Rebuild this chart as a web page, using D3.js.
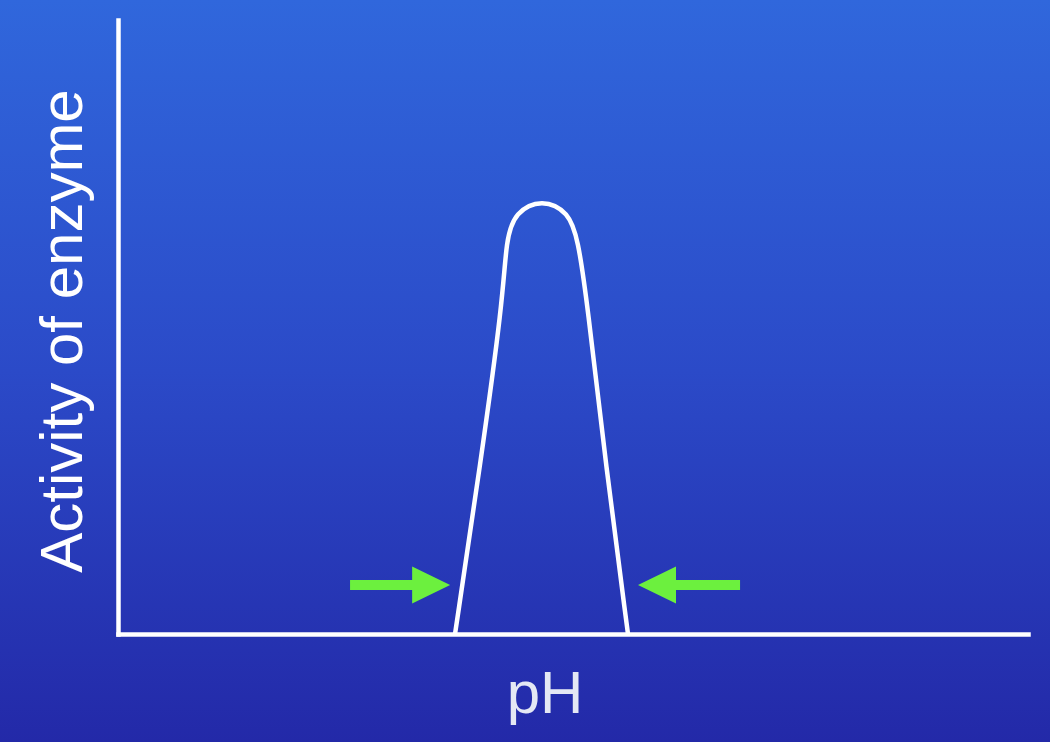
<!DOCTYPE html>
<html>
<head>
<meta charset="utf-8">
<script src="https://d3js.org/d3.v7.min.js"></script>
<style>
  html, body { margin: 0; padding: 0; background: #2a45c6; }
  svg { display: block; }
</style>
</head>
<body>
<svg id="chart"></svg>
<script>
var W = 1050, H = 742;
var margins = { top: 20, left: 118, bottom: 108, right: 22 };

// curve: pH vs activity of enzyme (smoothed with a B-spline)
var phValues = [5.185, 5.569, 5.923, 5.969, 6.108, 6.523, 6.938, 7.077, 7.215, 7.508, 7.846];
var activity = [0, 27.2, 54.4, 64.2, 68.7, 70.9, 68.7, 64.2, 54.4, 27.2, 0];

// green arrows pointing at the edges of the curve
var arrowFrom = [3.57, 9.57];
var arrowTo = [5.11, 8.0];
var arrowLevel = 8.0;

var xLabel = "pH";
var yLabel = "Activity of enzyme";

var svg = d3.select("#chart").attr("width", W).attr("height", H);

// background gradient
var grad = svg.append("defs").append("linearGradient")
  .attr("id", "bg").attr("x1", 0).attr("y1", 0).attr("x2", 0).attr("y2", 1);
grad.append("stop").attr("offset", "0%").attr("stop-color", "#3067dc");
grad.append("stop").attr("offset", "50%").attr("stop-color", "#2b4ac8");
grad.append("stop").attr("offset", "100%").attr("stop-color", "#2329a8");
svg.append("rect").attr("width", W).attr("height", H).attr("fill", "url(#bg)");

var xScale = d3.scaleLinear().domain([0, 14]).range([margins.left, W - margins.right]);
var yScale = d3.scaleLinear().domain([0, 100]).range([H - margins.bottom, margins.top]);

//axes, no ticks
var xAxis = d3.axisBottom(xScale).ticks(0).tickSizeOuter(0);
var yAxis = d3.axisLeft(yScale).ticks(0).tickSizeOuter(0);

svg.append("g").attr("id", "xAxisG")
  .attr("transform", "translate(0," + yScale(0) + ")")
  .call(xAxis);
svg.append("g").attr("id", "yAxisG")
  .attr("transform", "translate(" + xScale(0) + ",0)")
  .call(yAxis);
svg.selectAll("#xAxisG path, #yAxisG path")
  .attr("stroke", "#ffffff").attr("stroke-width", 4.5).attr("stroke-linecap", "square");

// the curve
var pts = phValues.map(function(p, i) { return { ph: p, a: activity[i] }; });
var line = d3.line()
  .x(function(d) { return xScale(d.ph); })
  .y(function(d) { return yScale(d.a); })
  .curve(d3.curveBasis);

svg.append("path")
  .attr("d", line(pts))
  .attr("fill", "none")
  .attr("stroke", "#ffffff")
  .attr("stroke-width", 4.5)
  .attr("stroke-linejoin", "round");

// arrows
var headLen = 38, headHalf = 18.5, shaftHalf = 5;
arrowFrom.forEach(function(f, i) {
  var x0 = xScale(f), x1 = xScale(arrowTo[i]), y = yScale(arrowLevel);
  var dir = x1 > x0 ? 1 : -1;
  var xb = x1 - dir * headLen;
  var pathStr = "M" + x0 + "," + (y - shaftHalf) +
    "L" + xb + "," + (y - shaftHalf) +
    "L" + xb + "," + (y - headHalf) +
    "L" + x1 + "," + y +
    "L" + xb + "," + (y + headHalf) +
    "L" + xb + "," + (y + shaftHalf) +
    "L" + x0 + "," + (y + shaftHalf) + "Z";
  svg.append("path").attr("d", pathStr).attr("fill", "#6cf03e");
});

// labels
svg.append("text")
  .attr("x", 545).attr("y", 713)
  .attr("text-anchor", "middle")
  .attr("font-family", "Liberation Sans, Arial, sans-serif")
  .attr("font-size", 60)
  .attr("fill", "#e4e8f4")
  .text(xLabel);

svg.append("text")
  .attr("transform", "translate(82,331) rotate(-90)")
  .attr("text-anchor", "middle")
  .attr("font-family", "Liberation Sans, Arial, sans-serif")
  .attr("font-size", 60)
  .attr("fill", "#ffffff")
  .text(yLabel);
</script>
</body>
</html>
